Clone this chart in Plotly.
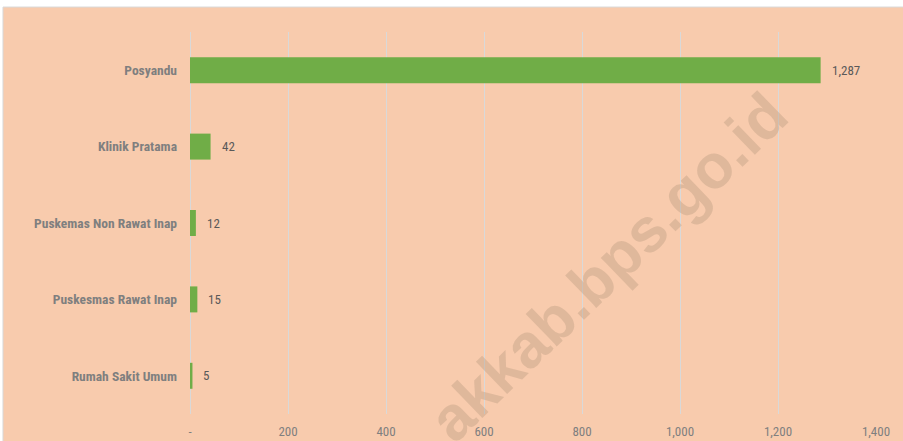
import plotly.graph_objects as go

categories = ["Posyandu", "Klinik Pratama", "Puskemas Non Rawat Inap",
              "Puskesmas Rawat Inap", "Rumah Sakit Umum"]
values = [1287, 42, 12, 15, 5]
x_tickvals = [0, 200, 400, 600, 800, 1000, 1200, 1400]
x_ticktext = ["-", "200", "400", "600", "800", "1,000", "1,200", "1,400"]

BG = "#F8CBAD"
BAR = "#70AD47"
GRID = "#D9D9D9"
TXT = "#7F7F7F"
FONT = "Liberation Sans Narrow, Arial Narrow, Roboto Condensed, Liberation Sans, Arial"

fig = go.Figure()
fig.add_trace(go.Bar(
    y=categories, x=values, orientation="h",
    marker=dict(color=BAR, line=dict(width=0)),
    hoverinfo="skip",
))

for c, v in zip(categories, values):
    fig.add_annotation(x=v, y=c, xref="x", yref="y", text=f"{v:,}",
                       showarrow=False, xanchor="left", xshift=9,
                       font=dict(family=FONT, size=13, color="#595959"))

# watermark
fig.add_annotation(x=0.61, y=0.385, xref="paper", yref="paper",
                   text="<b>akkab.bps.go.id</b>", showarrow=False,
                   textangle=-44,
                   font=dict(family="Liberation Sans, Arial", size=62,
                             color="rgba(179,149,124,0.35)"))

fig.update_layout(
    width=903, height=441,
    margin=dict(l=190, r=27, t=32, b=27),
    paper_bgcolor="white",
    plot_bgcolor="rgba(0,0,0,0)",
    bargap=0.66,
    showlegend=False,
    font=dict(family=FONT, color=TXT),
    shapes=[dict(type="rect", xref="paper", yref="paper",
                 x0=-0.2726, x1=1.1, y0=-0.15, y1=1.0654,
                 fillcolor=BG, line=dict(color=GRID, width=1), layer="below")],
    xaxis=dict(range=[0, 1400], tickvals=x_tickvals, ticktext=x_ticktext,
               showgrid=True, gridcolor=GRID, gridwidth=1,
               zeroline=False, showline=False, ticks="",
               tickfont=dict(family=FONT, size=13, color=TXT),
               ticklabelstandoff=8, automargin=False, fixedrange=True),
    yaxis=dict(categoryorder="array", categoryarray=categories[::-1],
               autorange=True, showgrid=False, zeroline=False,
               showline=False, ticks="", automargin=False,
               tickfont=dict(family=FONT, size=13.5, color=TXT),
               ticklabelstandoff=12, fixedrange=True),
)
fig.add_shape(type="line", xref="x", yref="paper", x0=0, x1=0, y0=0, y1=1,
              line=dict(color=GRID, width=2), layer="below")

fig.update_yaxes(ticktext=[f"<b>{c}</b>" for c in categories[::-1]],
                 tickvals=categories[::-1])

fig.write_html("out.html",
               config={"displayModeBar": False, "staticPlot": True},
               post_script="document.body.style.margin='0';"
                           "document.body.style.overflow='hidden';")
